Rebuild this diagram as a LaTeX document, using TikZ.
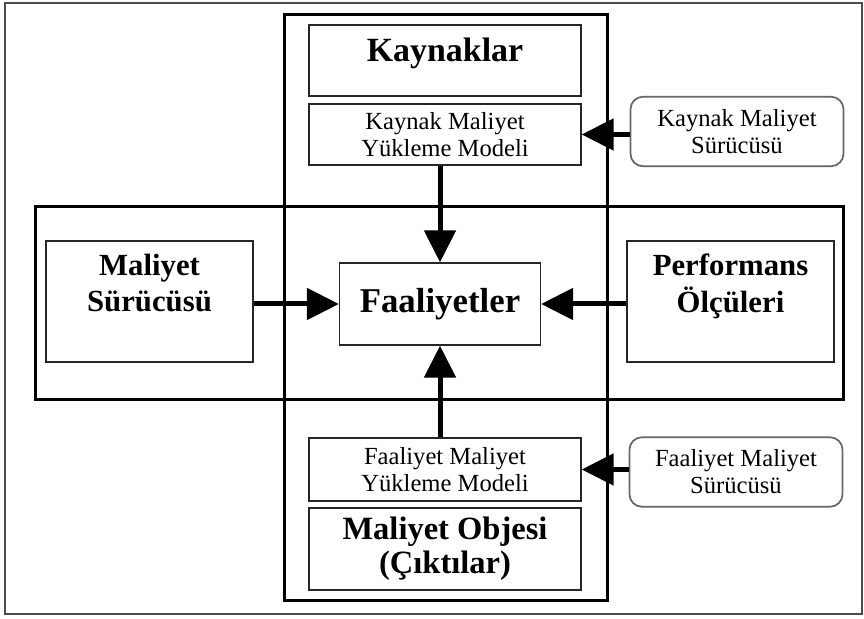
\documentclass[tikz,border=0pt]{standalone}
\usepackage{fontspec}
\setmainfont{Liberation Serif}
\usetikzlibrary{positioning,arrows.meta}
\tikzset{
  flowarrow/.style={-{Triangle[length=0.64cm,width=0.62cm]}, line width=0.1cm},
  groupbox/.style={draw, line width=0.06cm},
  modelbox/.style={draw=black!85, line width=0.025cm, minimum width=5.44cm, inner sep=0, align=center, font={\fontsize{14}{15.3}\selectfont}},
  driverbox/.style={draw=black!60, rounded corners=0.25cm, line width=0.035cm, minimum width=4.26cm, minimum height=1.39cm, inner sep=0, align=center, font={\fontsize{14}{15.3}\selectfont}},
  sidebox/.style={draw=black!85, line width=0.025cm, minimum width=4.14cm, minimum height=2.42cm},
  actbox/.style={draw=black!85, line width=0.025cm, minimum width=4.02cm, minimum height=1.64cm, font={\bfseries\fontsize{19.8}{23}\selectfont}},
  boldtext/.style={inner sep=0, align=center, font={\bfseries\fontsize{17.5}{21}\selectfont}}
}
\begin{document}
\begin{tikzpicture}
  \useasboundingbox (0,0) rectangle (17.28,12.38);
  \draw[black!70, line width=0.04cm] (0.10,0.10) rectangle (17.24,12.32);
  % two frames
  \node[groupbox, minimum width=6.46cm, minimum height=11.72cm] (col) at (8.91,6.22) {};
  \node[groupbox, minimum width=16.14cm, minimum height=3.86cm] (row) at (8.79,6.31) {};
  % column
  \node[modelbox, minimum height=1.42cm] (kay) at (8.90,11.17) {};
  \node[boldtext, font={\bfseries\fontsize{19.3}{23}\selectfont}, below=0.26cm of kay.north] (kayt) {Kaynaklar};
  \node[modelbox, minimum height=1.22cm] (kaym) at (8.90,9.69) {Kaynak Maliyet\\Yükleme Modeli};
  \node[driverbox] (kayd) at (14.74,9.75) {Kaynak Maliyet\\Sürücüsü};
  \node[actbox] (fa) at (8.80,6.30) {Faaliyetler};
  \node[modelbox, minimum height=1.26cm] (fam) at (8.90,2.99) {Faaliyet Maliyet\\Yükleme Modeli};
  \node[driverbox] (fad) at (14.72,2.94) {Faaliyet Maliyet\\Sürücüsü};
  \node[modelbox, minimum height=1.64cm, font={\bfseries\fontsize{18.5}{19.3}\selectfont}] (mo) at (8.90,1.40) {Maliyet Objesi\\(Çıktılar)};
  % row
  \node[sidebox] (ms) at (2.99,6.35) {};
  \node[boldtext, below=0.26cm of ms.north] (mst) {Maliyet\\Sürücüsü};
  \node[sidebox] (po) at (14.61,6.35) {};
  \node[boldtext, below=0.26cm of po.north] (pot) {Performans\\Ölçüleri};
  % arrows
  \draw[flowarrow] (kaym.east -| kayd.west) -- (kaym.east);
  \draw[flowarrow] (kaym.south -| fa.north) -- (fa.north);
  \draw[flowarrow] (ms.east |- fa) -- (fa.west);
  \draw[flowarrow] (po.west |- fa) -- (fa.east);
  \draw[flowarrow] (fam.north -| fa.south) -- (fa.south);
  \draw[flowarrow] (fam.east -| fad.west) -- (fam.east);
\end{tikzpicture}
\end{document}
